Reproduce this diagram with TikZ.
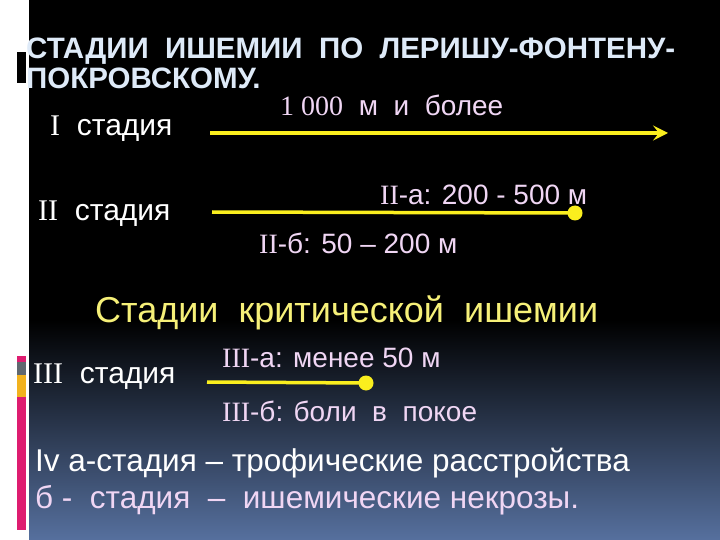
\documentclass[tikz,border=0pt]{standalone}
\usepackage{fontspec}
\setmainfont{Liberation Sans}
\newfontfamily\romfont{Liberation Serif}
\usetikzlibrary{arrows.meta, positioning}

\definecolor{titleblue}{RGB}{222,234,248}
\definecolor{lightpink}{RGB}{240,214,244}
\definecolor{lineyellow}{RGB}{250,238,30}
\definecolor{textyellow}{RGB}{246,240,120}
\definecolor{barpink}{RGB}{222,28,112}
\definecolor{bargray}{RGB}{96,104,112}
\definecolor{barorange}{RGB}{242,178,30}
\definecolor{bottomblue}{RGB}{86,112,158}

\begin{document}
\begin{tikzpicture}[x=1pt, y=-1pt,
    titletext/.style={anchor=base west, inner sep=0pt, text=titleblue, font=\fontsize{29.5}{29.5}\selectfont\bfseries},
    stagetext/.style={anchor=base west, inner sep=0pt, text=white, font=\fontsize{30}{30}\selectfont},
    labeltext/.style={anchor=base west, inner sep=0pt, text=lightpink, font=\fontsize{28}{28}\selectfont},
    walkline/.style={draw=lineyellow, line width=3.5pt},
    enddot/.style={circle, fill=lineyellow, inner sep=0pt, minimum size=15pt}
]
% background
\useasboundingbox (0,0) rectangle (720,540);
\fill[white] (0,0) rectangle (720,540);
\fill[black] (29,0) rectangle (720,320);
\shade[top color=black, bottom color=bottomblue] (29,320) rectangle (720,540);
\fill[black] (17,52) rectangle (26,83);
\fill[barpink] (17,356) rectangle (26,362);
\fill[bargray] (17,362) rectangle (26,375);
\fill[barorange] (17,375) rectangle (26,397);
\fill[barpink] (17,397) rectangle (26,530);

% title
\node[titletext] (title1) at (26,59) {СТАДИИ\ \ ИШЕМИИ\ \ ПО\ \ ЛЕРИШУ-ФОНТЕНУ-};
\node[titletext] (title2) at (26,89) {ПОКРОВСКОМУ.};

% stage I
\node[stagetext] (st1) at (50,136) {{\romfont I}\ \ стадия};
\node[labeltext] (dist1) at (280,116) {{\romfont 1 000}\ \ м\ \ и\ \ более};
\coordinate (a1) at (210,133);
\coordinate (b1) at (668,133);
\draw[walkline, -{Stealth[length=15pt, width=15pt, inset=6pt]}] (a1) -- (b1);

% stage II
\node[stagetext] (st2) at (38,221) {{\romfont II}\ \ стадия};
\coordinate (a2) at (212,212);
\node[enddot] (d2) at (575,213) {};
\draw[walkline] (a2) -- (d2.center);
\node[labeltext] (st2a) at (380,205) {{\romfont II}-а: 200 - 500 м};
\node[labeltext] (st2b) at (259,254) {{\romfont II}-б: 50 – 200 м};

% critical
\node[anchor=base west, inner sep=0pt, text=textyellow, font=\fontsize{36}{36}\selectfont] (crit) at (95,322) {Стадии\ \ критической\ \ ишемии};

% stage III
\node[stagetext] (st3) at (33,383) {{\romfont III}\ \ стадия};
\coordinate (a3) at (207,382);
\node[enddot] (d3) at (366,383) {};
\draw[walkline] (a3) -- (d3.center);
\node[labeltext] (st3a) at (222,367) {{\romfont III}-а: менее 50 м};
\node[labeltext] (st3b) at (222,421) {{\romfont III}-б: боли\ \ в\ \ покое};

% stage IV
\node[stagetext, font=\fontsize{31.5}{31.5}\selectfont] (st4a) at (35,471) {Iv а-стадия – трофические расстройства};
\node[stagetext, text=lightpink, font=\fontsize{31.5}{31.5}\selectfont] (st4b) at (35,508) {б -\ \ стадия\ \ –\ \ ишемические некрозы.};
\end{tikzpicture}
\end{document}
